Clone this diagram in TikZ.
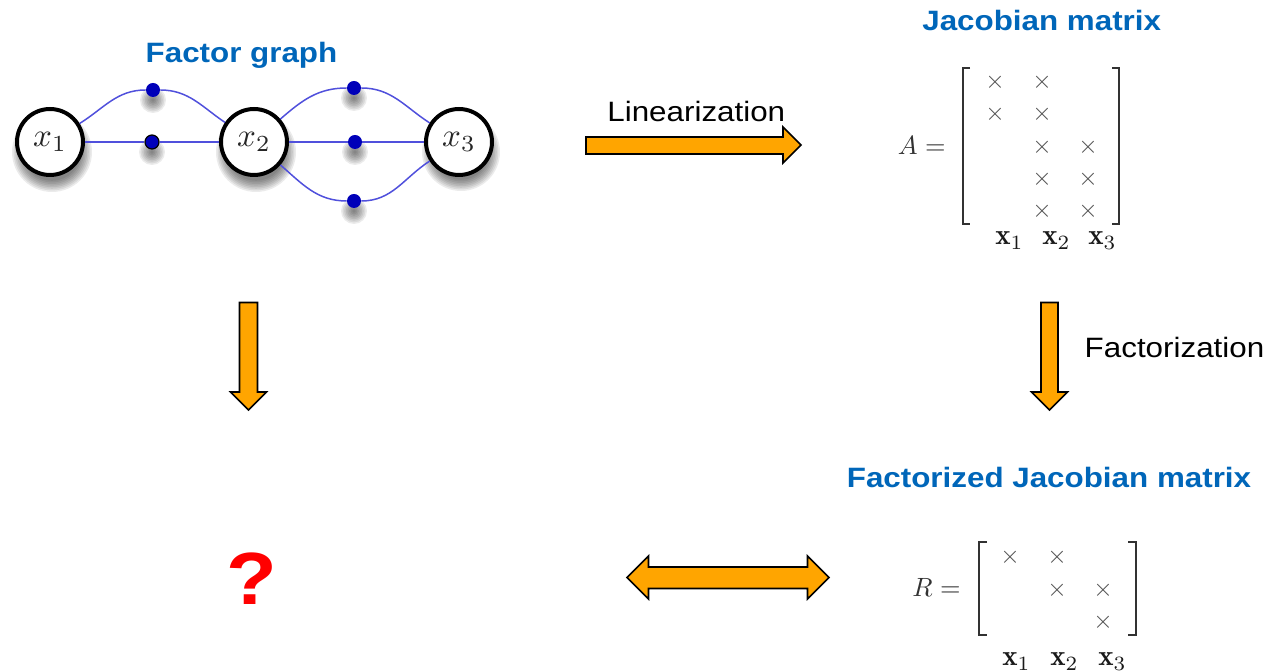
\documentclass[tikz,border=0pt]{standalone}
\usepackage{fontspec}
\newfontfamily\lsans[FakeStretch=1.12]{Liberation Sans}
\definecolor{titleblue}{RGB}{0,102,185}
\definecolor{edgeblue}{RGB}{80,80,220}
\definecolor{dotblue}{RGB}{0,0,185}
\definecolor{arroworange}{RGB}{255,165,0}
\definecolor{mgray}{RGB}{80,80,80}
\definecolor{bgray}{RGB}{50,50,50}
\newcommand{\softshadow}[3]{% centre x, centre y, radius (px)
  \foreach \k in {0,...,7}{%
    \pgfmathsetmacro{\rr}{(#3+6-1.6*\k)*0.5}%
    \fill[black,opacity=0.08] (#1,#2) circle[radius=\rr pt];}}
\begin{document}
\begin{tikzpicture}[x=0.5pt,y=-0.5pt,
  var/.style={circle,draw=black,line width=2pt,fill=white,minimum size=33pt,inner sep=0pt,
    text=black!85,font=\fontsize{10}{12}\selectfont},
  facdot/.style={circle,fill=dotblue,minimum size=7pt,inner sep=0pt},
  fedge/.style={draw=edgeblue,line width=0.75pt},
  title/.style={text=titleblue,font=\lsans\bfseries\fontsize{14}{16}\selectfont,anchor=base,inner sep=0pt},
  plainlabel/.style={text=black,font=\lsans\fontsize{14}{16}\selectfont,anchor=base,inner sep=0pt},
  blockarrow/.style={fill=arroworange,draw=black,line width=0.8pt,line join=miter},
  cross/.style={text=mgray,font=\fontsize{10}{12}\selectfont,inner sep=0pt},
  collabel/.style={text=black!90,font=\fontsize{10}{12}\selectfont,inner sep=0pt,anchor=base west},
  eqlabel/.style={text=bgray,font=\fontsize{10}{12}\selectfont,inner sep=0pt,anchor=base east},
  bracket/.style={draw=bgray,line width=0.8pt},
]
\useasboundingbox (0,0) rectangle (1270,672);

% ---------- factor graph ----------
\softshadow{52}{152}{34}
\softshadow{256}{152}{34}
\softshadow{461}{152}{33}
\softshadow{153}{100}{7}
\softshadow{152}{152}{7}
\softshadow{354}{98}{7}
\softshadow{355}{152}{7}
\softshadow{354}{211}{7}

\node[var] (x1) at (50,142) {\scalebox{1.65}{$x_1$}};
\node[var] (x2) at (254,142) {\scalebox{1.65}{$x_2$}};
\node[var] (x3) at (459,142) {\scalebox{1.65}{$x_3$}};
\node[facdot] (f1) at (153,90) {};
\node[facdot,draw=black,line width=0.6pt] (f2) at (152,142) {};
\node[facdot] (f3) at (354,88) {};
\node[facdot] (f4) at (355,142) {};
\node[facdot] (f5) at (354,201) {};

\draw[fedge] (x1) to[out=32,in=180] (f1) to[out=0,in=146] (x2);
\draw[fedge] (x1) -- (f2) -- (x2);
\draw[fedge] (x2) to[out=41,in=180] (f3) to[out=0,in=147] (x3);
\draw[fedge] (x2) -- (f4) -- (x3);
\draw[fedge] (x2) to[out=-41,in=180] (f5) to[out=0,in=-147] (x3);

% ---------- titles and labels ----------
\node[title] (tfg) at (241.5,62.3) {Factor graph};
\node[title] (tjm) at (1041.7,30.7) {Jacobian matrix};
\node[title] (tfj) at (1049,487.3) {Factorized Jacobian matrix};
\node[plainlabel] (llin) at (696.3,121.7) {Linearization};
\node[plainlabel] (lfac) at (1174.5,357.3) {Factorization};
\node[text=red,font=\lsans\bfseries\fontsize{37}{40}\selectfont,inner sep=0pt,anchor=base] (qm) at (252,605) {?};

% ---------- block arrows ----------
\draw[blockarrow] (586,137) -- (783,137) -- (783,127) -- (801,145) -- (783,163) -- (783,154) -- (586,154) -- cycle;
\draw[blockarrow] (239.5,302.5) -- (257.5,302.5) -- (257.5,392) -- (266.5,392) -- (248.5,410) -- (230.5,392) -- (239.5,392) -- cycle;
\draw[blockarrow] (1041,302.5) -- (1058,302.5) -- (1058,392) -- (1067.5,392) -- (1049.5,410) -- (1031.5,392) -- (1041,392) -- cycle;
\draw[blockarrow] (627,577.5) -- (648.5,556) -- (648.5,567) -- (807.5,567) -- (807.5,556) -- (829,577.5) -- (807.5,599) -- (807.5,588.5) -- (648.5,588.5) -- (648.5,599) -- cycle;

% ---------- matrix A ----------
\node[eqlabel] (Aeq) at (946,154.5) {\scalebox{1.32}{$A=$}};
\draw[bracket] (970,68) -- (963,68) -- (963,224) -- (970,224);
\draw[bracket] (1112,68) -- (1119,68) -- (1119,224) -- (1112,224);
\foreach \c/\r [count=\i] in {995/82,1042/82,995/114.5,1042/114.5,1042/147,1088/147,1042/179,1088/179,1042/211,1088/211}
  \node[cross] (ac\i) at (\c,\r) {\scalebox{1.25}{$\times$}};
\node[collabel] (ax1) at (995,245) {\scalebox{1.45}{$\mathbf{x}_1$}};
\node[collabel] (ax2) at (1042,245) {\scalebox{1.45}{$\mathbf{x}_2$}};
\node[collabel] (ax3) at (1088,245) {\scalebox{1.45}{$\mathbf{x}_3$}};

% ---------- matrix R ----------
\node[eqlabel] (Req) at (961,596.5) {\scalebox{1.32}{$R=$}};
\draw[bracket] (987,542) -- (979,542) -- (979,635) -- (987,635);
\draw[bracket] (1128,542) -- (1136,542) -- (1136,635) -- (1128,635);
\foreach \c/\r [count=\i] in {1010/557,1057/557,1057/590,1103/590,1103/622}
  \node[cross] (rc\i) at (\c,\r) {\scalebox{1.25}{$\times$}};
\node[collabel] (rx1) at (1002,666) {\scalebox{1.45}{$\mathbf{x}_1$}};
\node[collabel] (rx2) at (1050,666) {\scalebox{1.45}{$\mathbf{x}_2$}};
\node[collabel] (rx3) at (1098,666) {\scalebox{1.45}{$\mathbf{x}_3$}};
\end{tikzpicture}
\end{document}
